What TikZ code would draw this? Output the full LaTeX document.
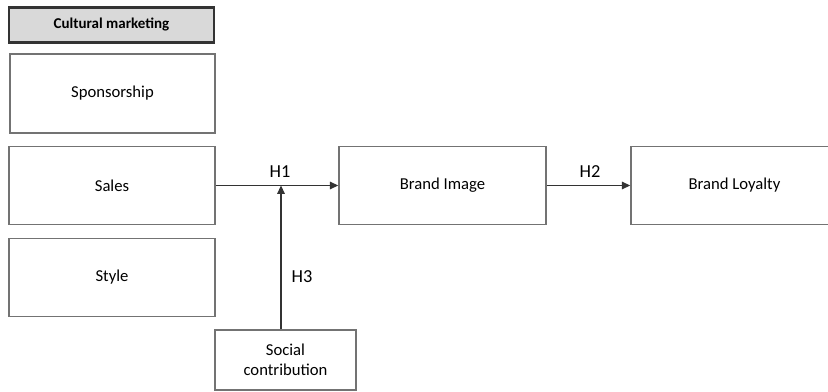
\documentclass[tikz,border=0pt]{standalone}
\usepackage{fontspec}
\setmainfont{Carlito}
\usetikzlibrary{arrows.meta}
\definecolor{boxline}{RGB}{115,115,115}
\definecolor{headfill}{RGB}{217,217,217}
\tikzset{
factor/.style={draw=boxline, line width=0.9pt, inner sep=0pt, align=center,
  font=\fontsize{10}{12}\selectfont},
headbox/.style={draw=black!80, line width=1.4pt, fill=headfill, inner sep=0pt,
  font=\fontsize{9}{11}\selectfont\bfseries},
link/.style={draw=black!80, line width=0.8pt, -{Triangle[length=5pt,width=4.5pt]}},
hyp/.style={font=\fontsize{11}{13}\selectfont, inner sep=1pt}
}

\begin{document}
\begin{tikzpicture}[x=0.6pt, y=-0.6pt]
\useasboundingbox (0,0) rectangle (828,392);
\clip (0,0) rectangle (828,392);
% cultural marketing block
\node[headbox, minimum width=205*0.6pt, minimum height=35*0.6pt] (head) at (111.5,25) {Cultural marketing};
\node[factor, minimum width=205*0.6pt, minimum height=79*0.6pt] (sponsor) at (112.5,93.5) {Sponsorship};
\node[factor, minimum width=206*0.6pt, minimum height=78*0.6pt] (sales) at (112,185.5) {Sales};
\node[factor, minimum width=206*0.6pt, minimum height=78*0.6pt] (style) at (112,277.5) {Style};
% outcomes
\node[factor, minimum width=207*0.6pt, minimum height=78*0.6pt] (image) at (442.5,185.5) {Brand Image};
\node[factor, minimum width=207*0.6pt, minimum height=78*0.6pt] (loyalty) at (734.5,185.5) {Brand Loyalty};
% moderator
\node[factor, minimum width=141*0.6pt, minimum height=60*0.6pt] (social) at (285.5,360) {Social\\contribution};
\coordinate (join) at (281,185.5);
\draw[link] (sales) -- (image);
\draw[link] (image) -- (loyalty);
\draw[link] (social.north -| join) -- (join);
\node[hyp] (h1) at (280,172) {H1};
\node[hyp] (h2) at (590,172) {H2};
\node[hyp] (h3) at (302,277) {H3};
\end{tikzpicture}
\end{document}
